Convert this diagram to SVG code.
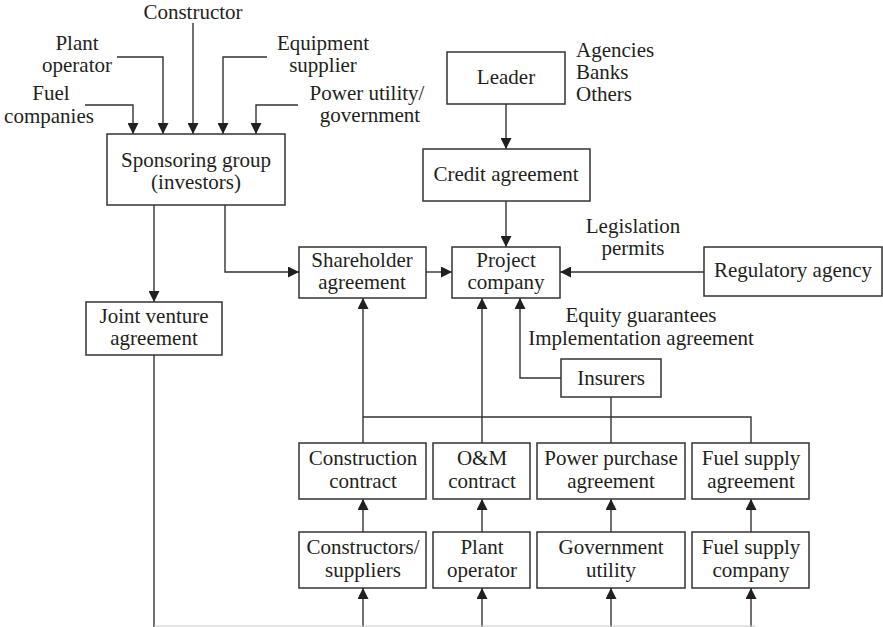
<svg xmlns="http://www.w3.org/2000/svg" width="883" height="627" viewBox="0 0 883 627">
<style>
text{font-family:'Liberation Serif','DejaVu Serif',serif;font-size:21px;fill:#231f20}
.c{text-anchor:middle}
.box{fill:#fff;stroke:#333;stroke-width:1.5}
.ln{fill:none;stroke:#333;stroke-width:1.4}
.ar{marker-end:url(#ah)}
</style>
<defs>
<marker id="ah" viewBox="0 0 10 10" refX="10" refY="5" markerWidth="11" markerHeight="11" markerUnits="userSpaceOnUse" orient="auto">
<path d="M0,0 L10,5 L0,10 z" fill="#231f20"/>
</marker>
</defs>
<rect width="883" height="627" fill="#fff"/>
<g id="connectors">
<path class="ln ar" d="M85,105 H133 V134"/>
<path class="ln ar" d="M117,57 H163 V134"/>
<path class="ln ar" d="M193,23 V134"/>
<path class="ln ar" d="M267,57 H223 V134"/>
<path class="ln ar" d="M298,105 H256 V134"/>
<path class="ln ar" d="M154,205 V302"/>
<path class="ln ar" d="M225,205 V272 H299"/>
<path class="ln ar" d="M426,272 H452"/>
<path class="ln ar" d="M506,104 V149"/>
<path class="ln ar" d="M506,201 V247"/>
<path class="ln ar" d="M704,272 H560"/>
<path class="ln ar" d="M363,443 V298"/>
<path class="ln ar" d="M482,443 V298"/>
<path class="ln ar" d="M561,378 H520 V298"/>
<path class="ln" d="M363,417 H751 V443"/>
<path class="ln" d="M611,397 V443"/>
<path class="ln ar" d="M363,532 V499"/>
<path class="ln ar" d="M482,532 V499"/>
<path class="ln ar" d="M611,532 V499"/>
<path class="ln ar" d="M751,532 V499"/>
<path class="ln" d="M154,355 V627"/>
<path class="ln ar" d="M363,627 V588"/>
<path class="ln ar" d="M482,627 V588"/>
<path class="ln ar" d="M611,627 V588"/>
<path class="ln ar" d="M751,627 V588"/>
<path d="M154,626 H755" fill="none" stroke="#ccc" stroke-width="1.2"/>
</g>
<g id="labels">
<text class="c" x="193" y="19">Constructor</text>
<text class="c" x="77" y="50">Plant</text>
<text class="c" x="77" y="72">operator</text>
<text class="c" x="51" y="100">Fuel</text>
<text class="c" x="49" y="123">companies</text>
<text class="c" x="323" y="50">Equipment</text>
<text class="c" x="323" y="72">supplier</text>
<text class="c" x="367" y="100">Power utility/</text>
<text class="c" x="370" y="122">government</text>
<text x="576" y="57">Agencies</text>
<text x="576" y="79">Banks</text>
<text x="576" y="101">Others</text>
<text class="c" x="633" y="233">Legislation</text>
<text class="c" x="633" y="255">permits</text>
<text class="c" x="641" y="322">Equity guarantees</text>
<text class="c" x="641" y="345">Implementation agreement</text>
</g>
<g id="sponsoring"><rect class="box" x="107" y="134" width="178" height="71"/><text class="c" x="196" y="167">Sponsoring group</text><text class="c" x="196" y="189">(investors)</text></g>
<g id="leader"><rect class="box" x="447" y="52" width="118" height="52"/><text class="c" x="506" y="84">Leader</text></g>
<g id="credit"><rect class="box" x="423" y="149" width="167" height="52"/><text class="c" x="506" y="181">Credit agreement</text></g>
<g id="shareholder"><rect class="box" x="299" y="247" width="127" height="51"/><text class="c" x="362" y="267">Shareholder</text><text class="c" x="362" y="289">agreement</text></g>
<g id="project"><rect class="box" x="452" y="247" width="108" height="51"/><text class="c" x="506" y="267">Project</text><text class="c" x="506" y="289">company</text></g>
<g id="regulatory"><rect class="box" x="704" y="247" width="178" height="49"/><text x="714" y="277">Regulatory agency</text></g>
<g id="jv"><rect class="box" x="86" y="302" width="136" height="53"/><text class="c" x="154" y="323">Joint venture</text><text class="c" x="154" y="345">agreement</text></g>
<g id="insurers"><rect class="box" x="561" y="359" width="100" height="38"/><text class="c" x="611" y="385">Insurers</text></g>
<g id="construction"><rect class="box" x="299" y="443" width="127" height="56"/><text class="c" x="363" y="465">Construction</text><text class="c" x="363" y="488">contract</text></g>
<g id="om"><rect class="box" x="433" y="443" width="97" height="56"/><text class="c" x="482" y="465">O&amp;M</text><text class="c" x="482" y="488">contract</text></g>
<g id="ppa"><rect class="box" x="537" y="443" width="148" height="56"/><text class="c" x="611" y="465">Power purchase</text><text class="c" x="611" y="488">agreement</text></g>
<g id="fsa"><rect class="box" x="692" y="443" width="117" height="56"/><text class="c" x="751" y="465">Fuel supply</text><text class="c" x="751" y="488">agreement</text></g>
<g id="constructors"><rect class="box" x="299" y="532" width="127" height="56"/><text class="c" x="363" y="554">Constructors/</text><text class="c" x="363" y="577">suppliers</text></g>
<g id="plantop"><rect class="box" x="433" y="532" width="97" height="56"/><text class="c" x="482" y="554">Plant</text><text class="c" x="482" y="577">operator</text></g>
<g id="govutil"><rect class="box" x="537" y="532" width="148" height="56"/><text class="c" x="611" y="554">Government</text><text class="c" x="611" y="577">utility</text></g>
<g id="fsc"><rect class="box" x="692" y="532" width="117" height="56"/><text class="c" x="751" y="554">Fuel supply</text><text class="c" x="751" y="577">company</text></g>
</svg>
